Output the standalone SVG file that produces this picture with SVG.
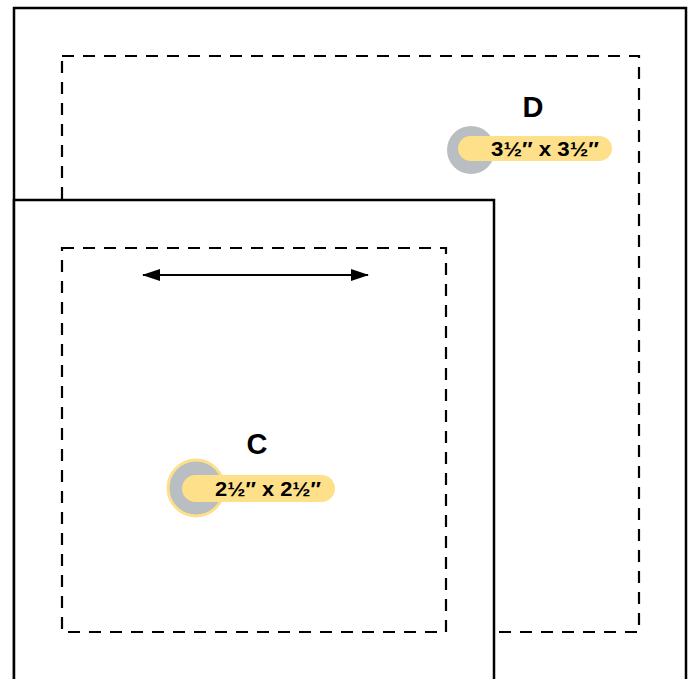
<svg xmlns="http://www.w3.org/2000/svg" width="691" height="679" viewBox="0 0 691 679">
<style>
.frame{fill:#fff;stroke:#000;stroke-width:2.5}
.dash{fill:none;stroke:#000;stroke-width:2.2;stroke-dasharray:12 9}
.letter{font-family:"Liberation Sans",Arial,sans-serif;font-weight:bold;font-size:29px;text-anchor:middle;fill:#000}
.dim{font-family:"Liberation Sans",Arial,sans-serif;font-weight:bold;font-size:20px;text-anchor:middle;fill:#000}
.pill{fill:#FFE08A}
.dot{fill:#B9BEC3}
</style>
<defs>
<marker id="ah" viewBox="0 0 18 12" refX="17" refY="6" markerWidth="18" markerHeight="12" markerUnits="userSpaceOnUse" orient="auto-start-reverse">
<path d="M0,0 L18,6 L0,12 Z" fill="#000"/>
</marker>
</defs>
<g id="nodeD">
<rect class="frame" x="14" y="8" width="672" height="690"/>
<rect class="dash" x="62" y="56" width="577" height="576"/>
<text class="letter" x="533" y="117">D</text>
<circle class="dot" cx="471" cy="150" r="24"/>
<rect class="pill" x="458" y="136" width="154" height="25" rx="12.5"/>
<text class="dim" x="545" y="156" textLength="108" lengthAdjust="spacingAndGlyphs">3½″ x 3½″</text>
</g>
<g id="nodeC">
<rect class="frame" x="14" y="200" width="480" height="500"/>
<rect class="dash" x="62" y="248" width="384" height="384"/>
<text class="letter" x="257" y="454">C</text>
<circle class="dot" cx="196" cy="488" r="28" stroke="#FFE08A" stroke-width="3"/>
<rect class="pill" x="182" y="475" width="153" height="27" rx="13.5"/>
<text class="dim" x="268" y="496" textLength="106" lengthAdjust="spacingAndGlyphs">2½″ x 2½″</text>
</g>
<g id="connectors">
<line x1="143" y1="275" x2="368" y2="275" stroke="#000" stroke-width="2" marker-start="url(#ah)" marker-end="url(#ah)"/>
</g>
</svg>
